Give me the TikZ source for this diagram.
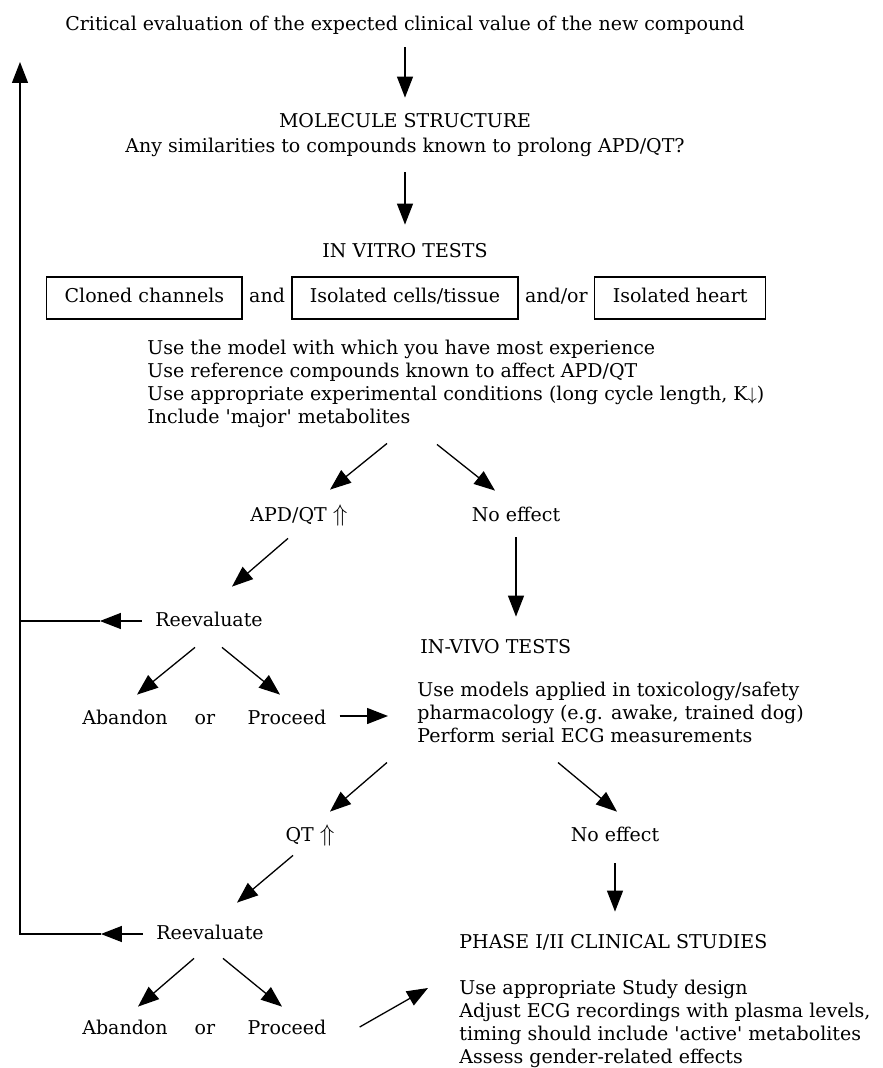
\documentclass[tikz,border=0pt]{standalone}
\usepackage{fontspec}
\setmainfont{DejaVu Serif}
\usetikzlibrary{arrows.meta,positioning,calc}
\newcommand{\upup}{{\fontsize{12}{12}\selectfont$\Uparrow$}}

\begin{document}
\begin{tikzpicture}[x=0.5pt,y=-0.5pt,
   font=\fontsize{9.5}{11.5}\selectfont,
   lbl/.style={inner sep=0pt,text height=7pt,text depth=2pt,anchor=base},
   bx/.style={draw,line width=0.65pt,inner xsep=9pt,inner ysep=0pt,minimum height=21pt,text height=7pt,text depth=2pt},
   notes/.style={inner sep=0pt,align=left,anchor=north west},
   a/.style={-{Triangle[length=10.5pt,width=8pt]},line width=0.65pt},
   ln/.style={line width=0.65pt}]
  \useasboundingbox (0,0) rectangle (882,1068);
  % screening steps
  \node[lbl] (crit) at (405,31) {Critical evaluation of the expected clinical value of the new compound};
  \node[lbl] (mol) at (405,128) {MOLECULE STRUCTURE};
  \node[lbl] (simq) at (405,153) {Any similarities to compounds known to prolong APD/QT?};
  \node[lbl] (vitro) at (405,258) {IN VITRO TESTS};
  \node[bx] (cells) at (405,298) {Isolated cells/tissue};
  \node[lbl,left=3pt of cells] (and1) {and};
  \node[bx,left=3pt of and1] (cloned) {Cloned channels};
  \node[lbl,right=3pt of cells] (andor) {and/or};
  \node[bx,right=3pt of andor] (heart) {Isolated heart};
  \node[notes] (vnotes) at (147,340) {Use the model with which you have most experience\\
    Use reference compounds known to affect APD/QT\\
    Use appropriate experimental conditions (long cycle length, K$\downarrow$)\\
    Include \textquotesingle major\textquotesingle\ metabolites};
  \node[lbl] (apd) at (299,521) {APD/QT \upup};
  \node[lbl] (noeff1) at (516,521) {No effect};
  \node[lbl] (reeval1) at (209,626) {Reevaluate};
  \node[lbl] (aband1) at (125,724) {Abandon};
  \node[lbl] (or1) at (205,724) {or};
  \node[lbl] (proc1) at (287,724) {Proceed};
  \node[lbl,anchor=base west] (vivo) at (420,653) {IN-VIVO TESTS};
  \node[notes] (inotes) at (417,682) {Use models applied in toxicology/safety\\
    pharmacology (e.g. awake, trained dog)\\
    Perform serial ECG measurements};
  \node[lbl] (qt) at (310,841) {QT \upup};
  \node[lbl] (noeff2) at (615,841) {No effect};
  \node[lbl] (reeval2) at (210,939) {Reevaluate};
  \node[lbl] (aband2) at (125,1034) {Abandon};
  \node[lbl] (or2) at (205,1034) {or};
  \node[lbl] (proc2) at (287,1034) {Proceed};
  \node[lbl,anchor=base west] (phase) at (459,948) {PHASE I/II CLINICAL STUDIES};
  \node[notes] (pnotes) at (459,980) {Use appropriate Study design\\
    Adjust ECG recordings with plasma levels,\\
    timing should include \textquotesingle active\textquotesingle\ metabolites\\
    Assess gender-related effects};
  \coordinate (loop) at (20,62);

  % arrows
  \draw[a] ([shift={(0,12)}]crit.south) -- ([shift={(0,-16)}]mol.north);
  \draw[a] ([shift={(0,15)}]simq.south) -- ([shift={(0,-19)}]vitro.north);
  \draw[a] ([shift={(240,15)}]vnotes.south west) -- ([shift={(31,-17)}]apd.north);
  \draw[a] ([shift={(290,16)}]vnotes.south west) -- ([shift={(-21,-16)}]noeff1.north);
  \draw[a] ([shift={(-11,13)}]apd.south) -- ([shift={(23,-25)}]reeval1.north);
  \draw[a] ([shift={(0,12)}]noeff1.south) -- ($(noeff1.south |- vivo.north)+(0,-22)$);
  \draw[a] ([shift={(-13,0)}]reeval1.west) -- ([shift={(-55,0)}]reeval1.west);
  \draw[ln] ([shift={(-55,0)}]reeval1.west) -- (reeval1.west -| loop);
  \draw[a] ([shift={(-14,17)}]reeval1.south) -- ([shift={(12,-15)}]aband1.north);
  \draw[a] ([shift={(13,17)}]reeval1.south) -- ([shift={(-7,-15)}]proc1.north);
  \draw[a] ([shift={(13,-3)}]proc1.east) -- ($(proc1.east -| inotes.west)+(-29,-3)$);
  \draw[a] ([shift={(-30,19)}]inotes.south west) -- ([shift={(20,-15)}]qt.north);
  \draw[a] ([shift={(141,19)}]inotes.south west) -- ([shift={(2,-15)}]noeff2.north);
  \draw[a] ([shift={(-17,10)}]qt.south) -- ([shift={(27,-22)}]reeval2.north);
  \draw[a] ([shift={(0,18)}]noeff2.south) -- ($(noeff2.south |- phase.north)+(0,-22)$);
  \draw[a] ([shift={(-13,0)}]reeval2.west) -- ([shift={(-55,0)}]reeval2.west);
  \draw[a] ([shift={(-55,0)}]reeval2.west) -- (reeval2.west -| loop) -- (loop);
  \draw[a] ([shift={(-16,15)}]reeval2.south) -- ([shift={(13,-13)}]aband2.north);
  \draw[a] ([shift={(13,15)}]reeval2.south) -- ([shift={(-5,-13)}]proc2.north);
  \draw[a] ([shift={(33,-2)}]proc2.east) -- ([shift={(-31,8)}]pnotes.north west);
\end{tikzpicture}
\end{document}
